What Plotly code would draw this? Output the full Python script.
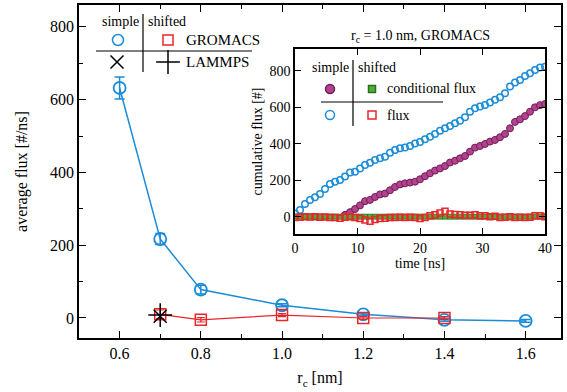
import plotly.graph_objects as go

# ---------------- data ----------------
rc_simple = [0.6, 0.7, 0.8, 1.0, 1.2, 1.4, 1.6]
flux_simple = [632, 217, 78, 35, 10, -5, -8]
err_simple = [30, 15, 12, 4, 4, 4, 4]

rc_shifted = [0.7, 0.8, 1.0, 1.2, 1.4]
flux_shifted = [10, -5, 8, 0, 0]
err_shifted = [12, 6, 4, 4, 4]

rc_lammps = [0.7]
lammps_simple = [5]
lammps_shifted = [8]

time_ns = [round(0.8 * i, 1) for i in range(51)]
cum_flux_simple = [18, 37, 70, 92, 106, 125, 152, 179, 192, 201, 220, 242, 247, 265, 284, 296,
                   311, 320, 329, 351, 366, 375, 380, 388, 402, 410, 425, 439, 454, 472, 485, 498,
                   512, 527, 545, 576, 595, 604, 613, 626, 641, 655, 677, 714, 736, 750, 772, 787,
                   805, 818, 822]
time_cond = time_ns[10:]
cond_flux_simple = [10, 25, 42, 62, 85, 92, 108, 122, 127, 145, 163, 177, 183, 187, 192, 205,
                    222, 238, 253, 265, 278, 297, 307, 320, 333, 357, 379, 388, 399, 412, 421,
                    436, 454, 485, 520, 534, 552, 576, 600, 612, 618]
cond_flux_shifted = [0] * 51
cum_flux_shifted = [-5, -3, 0, -2, 0, -3, -2, -5, -5, -8, -3, 0, -5, -10, -18, -25, -15, -10, -8,
                    -5, -5, -3, -5, -3, -5, -10, -5, 5, 10, 20, 30, 15, 12, 10, 8, 8, 10, 5, 5, 0,
                    3, -5, -3, 0, -5, -3, -5, -3, 5, 5, 0]

BLUE = "#1a8cd8"
RED = "#e8262a"
PURPLE = "#b3428f"
PURPLE_D = "#6e1f55"
GREEN = "#4db035"
GREEN_D = "#2a6e1c"
FONT = "Liberation Serif"

# pixel geometry of main plot area
L, R, T, B = 79, 561, 5, 338
W, H = 567, 392
# inset plot area (pixels)
IL, IR, IT, IB = 295, 545, 49, 234

def px(x):
    return (x - L) / (R - L)

def py(y):
    return (B - y) / (B - T)

fig = go.Figure()

# ---- main plot ----
fig.add_trace(go.Scatter(x=rc_simple, y=flux_simple, mode="lines+markers",
                         line=dict(color=BLUE, width=1.5),
                         marker=dict(symbol="circle-open", size=12, color=BLUE, line=dict(width=1.8)),
                         error_y=dict(type="data", array=err_simple, color=BLUE, thickness=1.5, width=5),
                         showlegend=False))
fig.add_trace(go.Scatter(x=rc_shifted, y=flux_shifted, mode="lines+markers",
                         line=dict(color=RED, width=1.2),
                         marker=dict(symbol="square-open", size=11, color=RED, line=dict(width=1.5)),
                         error_y=dict(type="data", array=err_shifted, color=RED, thickness=1.2, width=4),
                         showlegend=False))
fig.add_trace(go.Scatter(x=rc_lammps, y=lammps_simple, mode="markers",
                         marker=dict(symbol="x-thin-open", size=13, color="black", line=dict(width=1.5, color="black")),
                         showlegend=False))
fig.add_trace(go.Scatter(x=rc_lammps, y=lammps_shifted, mode="markers",
                         marker=dict(symbol="cross-thin-open", size=17, color="black", line=dict(width=1.5, color="black")),
                         showlegend=False))

# ---- inset ----
fig.add_trace(go.Scatter(x=time_ns, y=cum_flux_simple, mode="markers", xaxis="x2", yaxis="y2",
                         marker=dict(symbol="circle-open", size=6.5, color=BLUE, line=dict(width=1.5)),
                         showlegend=False))
fig.add_trace(go.Scatter(x=time_cond, y=cond_flux_simple, mode="markers", xaxis="x2", yaxis="y2",
                         marker=dict(symbol="circle", size=7, color=PURPLE, line=dict(width=1, color=PURPLE_D)),
                         showlegend=False))
fig.add_trace(go.Scatter(x=time_ns, y=cond_flux_shifted, mode="markers", xaxis="x2", yaxis="y2",
                         marker=dict(symbol="square", size=5, color=GREEN, line=dict(width=0.8, color=GREEN_D)),
                         showlegend=False))
fig.add_trace(go.Scatter(x=time_ns, y=cum_flux_shifted, mode="markers", xaxis="x2", yaxis="y2",
                         marker=dict(symbol="square-open", size=6, color=RED, line=dict(width=1.5)),
                         showlegend=False))

# ---- legend symbols (pixel coords on hidden overlay axes) ----
def leg_marker(xx, yy, sym, size, col, lcol, xa, ya):
    fig.add_trace(go.Scatter(x=[xx], y=[yy], mode="markers", xaxis=xa, yaxis=ya,
                             marker=dict(symbol=sym, size=size, color=col, line=dict(width=1.5, color=lcol)),
                             showlegend=False, hoverinfo="skip", cliponaxis=False))

leg_marker(118, 40, "circle-open", 11, BLUE, BLUE, "x3", "y3")
leg_marker(168, 40, "square-open", 10, RED, RED, "x3", "y3")
leg_marker(117, 62, "x-thin-open", 13, "black", "black", "x3", "y3")
leg_marker(168, 62, "cross-thin-open", 17, "black", "black", "x3", "y3")
leg_marker(330, 89, "circle", 9, PURPLE, PURPLE_D, "x4", "y4")
leg_marker(372, 89, "square", 7, GREEN, GREEN_D, "x4", "y4")
leg_marker(330, 115, "circle-open", 9, BLUE, BLUE, "x4", "y4")
leg_marker(372, 115, "square-open", 8, RED, RED, "x4", "y4")

def axis_common(size):
    return dict(showline=True, linecolor="black", linewidth=1.5, mirror="ticks",
                ticks="inside", tickcolor="black", showgrid=False, zeroline=False,
                automargin=False,
                tickfont=dict(family=FONT, size=size, color="black"))

fig.update_layout(
    width=W, height=H,
    margin=dict(l=L, r=W - R, t=T, b=H - B, pad=0),
    paper_bgcolor="white", plot_bgcolor="white",
    font=dict(family=FONT, color="black", size=16),
    xaxis=dict(**axis_common(16), domain=[0, 1], range=[0.5, 1.687], anchor="y",
               tickmode="linear", tick0=0.6, dtick=0.2, tickformat=".1f",
               ticklen=7, tickwidth=1.2,
               minor=dict(dtick=0.1, tick0=0.5, ticks="inside", ticklen=4, tickcolor="black"),
               title=dict(text="r<sub>c</sub> [nm]", font=dict(family=FONT, size=16), standoff=11)),
    yaxis=dict(**axis_common(16), domain=[0, 1], range=[-55, 860], anchor="x",
               tickmode="linear", tick0=0, dtick=200, ticklen=7, tickwidth=1.2,
               minor=dict(dtick=100, tick0=0, ticks="inside", ticklen=4, tickcolor="black"),
               title=dict(text="average flux [#/ns]", font=dict(family=FONT, size=16), standoff=18)),
    xaxis2=dict(**axis_common(14), anchor="y2", domain=[px(IL), px(IR)], range=[0, 40],
                tickmode="linear", tick0=0, dtick=10, ticklen=6, tickwidth=1.2,
                title=dict(text="time [ns]", font=dict(family=FONT, size=14), standoff=2)),
    yaxis2=dict(**axis_common(14), anchor="x2", domain=[py(IB), py(IT)], range=[-95, 920],
                tickmode="linear", tick0=0, dtick=200, ticklen=6, tickwidth=1.2,
                title=dict(text="cumulative flux [#]", font=dict(family=FONT, size=14), standoff=4)),
    xaxis3=dict(overlaying="x", range=[L, R], visible=False, anchor="y3", fixedrange=True),
    yaxis3=dict(overlaying="y", range=[B, T], visible=False, anchor="x3", fixedrange=True),
    xaxis4=dict(overlaying="x2", range=[IL, IR], visible=False, anchor="y4", fixedrange=True),
    yaxis4=dict(overlaying="y2", range=[IB, IT], visible=False, anchor="x4", fixedrange=True),
)

# legend lines
line_kw = dict(type="line", xref="paper", yref="paper", line=dict(color="black", width=1.2))
fig.add_shape(x0=px(143), x1=px(143), y0=py(14), y1=py(72), **line_kw)
fig.add_shape(x0=px(96), x1=px(252), y0=py(51), y1=py(51), **line_kw)
fig.add_shape(x0=px(353), x1=px(353), y0=py(60), y1=py(126), **line_kw)
fig.add_shape(x0=px(321), x1=px(443), y0=py(102), y1=py(102), **line_kw)

def ann(text, x, y, size=15, xanchor="left"):
    fig.add_annotation(text=text, x=px(x), y=py(y), xref="paper", yref="paper", showarrow=False,
                       xanchor=xanchor, yanchor="middle", font=dict(family=FONT, size=size, color="black"))

ann("simple", 141, 22, 14, "right")
ann("shifted", 146, 22, 14)
ann("GROMACS", 184, 40, 15)
ann("LAMMPS", 184, 62, 15)
ann("r<sub>c</sub> = 1.0 nm, GROMACS", 420, 36, 14, "center")
ann("simple", 351, 67, 14, "right")
ann("shifted", 356, 67, 14)
ann("conditional flux", 385, 88, 14)
ann("flux", 385, 115, 14)

post = "document.body.style.margin = '0';"
fig.write_html("out.html", post_script=post, config={"displayModeBar": False})
